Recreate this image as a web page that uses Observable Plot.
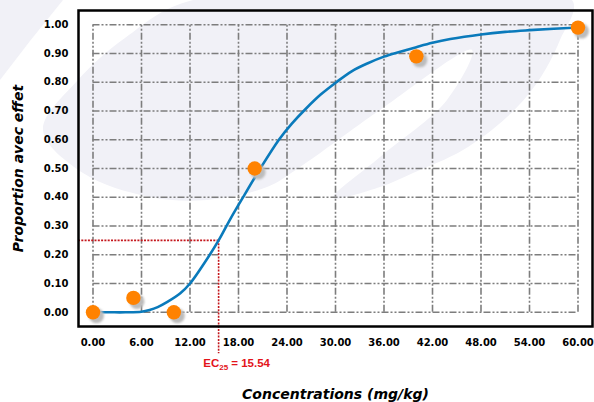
<!DOCTYPE html>
<html>
<head>
<meta charset="utf-8">
<script src="https://cdn.jsdelivr.net/npm/d3@7"></script>
<script src="https://cdn.jsdelivr.net/npm/@observablehq/plot@0.6"></script>
<style>
  body { margin: 0; background: #fff; }
  #chart svg { display: block; }
  #chart g[aria-label="x-axis label"] text,
  #chart g[aria-label="y-axis label"] text { font-family: "DejaVu Sans", sans-serif; font-size: 14px; font-style: italic; font-weight: bold; }
</style>
</head>
<body>
<div id="chart"></div>
<script>
// ---- data ----
const xTicks = [0, 6, 12, 18, 24, 30, 36, 42, 48, 54, 60];
const yTicks = [0, 0.1, 0.2, 0.3, 0.4, 0.5, 0.6, 0.7, 0.8, 0.9, 1.0];

const doseX = [0, 5, 10, 20, 40, 60];
const effectY = [0, 0.05, 0, 0.50, 0.89, 0.99];

const curveX = [0, 2, 4, 6, 7, 8, 9.2, 10.8, 12, 13.7, 15.54, 17, 18.5, 20.7, 23.0, 24.6, 26.3, 28.2, 30.1, 32, 34, 36, 38, 40, 42, 44.2, 48, 51, 54, 57, 60];
const curveY = [0, 0, 0, 0.002, 0.008, 0.018, 0.036, 0.066, 0.10, 0.168, 0.25, 0.325, 0.397, 0.50, 0.60, 0.656, 0.707, 0.758, 0.80, 0.838, 0.866, 0.889, 0.906, 0.922, 0.937, 0.95, 0.966, 0.975, 0.981, 0.986, 0.99];

const ec25 = 15.54;
const ecLevel = 0.25;
const ecName = "EC";
const ecSub = "25";
const ecValueText = " = 15.54";

const xLabel = "Concentrations (mg/kg)";
const yLabel = "Proportion avec effet";

// ---- tables built from the arrays ----
const points = doseX.map((x, i) => ({x, y: effectY[i]}));
const curve = curveX.map((x, i) => ({x, y: curveY[i]}));
const ecRows = [{x: ec25, y: ecLevel, label: ecName + ecSub + ecValueText}];

const gridStyle = {stroke: "#7d7d7d", strokeWidth: 1.6, strokeDasharray: "7,2,2,2,2,2"};
const redStyle = {stroke: "#c4161c", strokeWidth: 1.6, strokeDasharray: "2,1.3"};

const svg = Plot.plot({
  width: 594,
  height: 402,
  marginLeft: 78,
  marginRight: 2,
  marginTop: 10,
  marginBottom: 76,
  style: {fontFamily: "'DejaVu Sans', sans-serif", fontSize: "10px", fontWeight: "bold", color: "#000", background: "transparent"},
  x: {domain: [0, 60], inset: 14.5},
  y: {domain: [0, 1], inset: 14.2},
  marks: [
    Plot.ruleX(xTicks, {x: d => d, y1: () => yTicks[0], y2: () => yTicks[yTicks.length - 1], ...gridStyle}),
    Plot.ruleY(yTicks, {y: d => d, x1: () => xTicks[0], x2: () => xTicks[xTicks.length - 1], ...gridStyle}),
    Plot.ruleY(ecRows, {y: "y", x1: () => xTicks[0], x2: "x", insetLeft: -14.5, ...redStyle}),
    Plot.ruleX(ecRows, {x: "x", y1: "y", y2: () => yTicks[0], insetBottom: -41.5, ...redStyle}),
    Plot.line(curve, {x: "x", y: "y", stroke: "#0a7abb", strokeWidth: 2.6, curve: "catmull-rom"}),
    Plot.dot(points, {x: "x", y: "y", r: 7.5, fill: "#bcbcbc", dx: 3.5, dy: 3.5}),
    Plot.dot(points, {x: "x", y: "y", r: 7.2, fill: "#ff8200"}),
    Plot.text(ecRows, {x: "x", y: () => yTicks[0], text: "label", dx: 18, dy: 51, fill: "#e3141b", fontFamily: "'Liberation Sans', Arial, sans-serif", fontWeight: "bold", fontSize: 11.5, lineAnchor: "middle"}),
    Plot.frame({stroke: "#000", strokeWidth: 2.5}),
    Plot.axisX({ticks: xTicks, tickFormat: d3.format(".2f"), tickSize: 0, tickPadding: 12, label: xLabel, labelAnchor: "center", labelOffset: 72, labelArrow: "none"}),
    Plot.axisY({ticks: yTicks, tickFormat: d3.format(".2f"), tickSize: 0, tickPadding: 10, label: yLabel, labelAnchor: "center", labelOffset: 65, labelArrow: "none"})
  ]
});

// subscript for the EC25 label
const ecText = svg.querySelector('g[aria-label="text"] text');
if (ecText) {
  while (ecText.firstChild) ecText.removeChild(ecText.firstChild);
  const ns = "http://www.w3.org/2000/svg";
  const t1 = document.createElementNS(ns, "tspan"); t1.textContent = ecName;
  const t2 = document.createElementNS(ns, "tspan"); t2.textContent = ecSub;
  t2.setAttribute("font-size", "8"); t2.setAttribute("dy", "3");
  const t3 = document.createElementNS(ns, "tspan"); t3.textContent = ecValueText;
  t3.setAttribute("dy", "-3");
  ecText.append(t1, t2, t3);
}

// soft shadow under dots
const dotGroups = svg.querySelectorAll('g[aria-label="dot"]');
if (dotGroups.length) dotGroups[0].style.filter = "blur(1px)";

// faint decorative watermark behind the chart
const wm = d3.select(svg).insert("g", ":first-child").attr("aria-hidden", "true");
const blob = [[193,0],[572,0],[560,40],[537,83],[507,117],[463,150],[413,173],[380,187],[333,198],[380,157],[447,100],[472,50],[380,110],[300,167],[267,187],[207,200],[150,197],[83,173],[43,130],[78,80],[125,38]];
wm.append("path").attr("d", d3.line().curve(d3.curveCatmullRomClosed.alpha(0.5))(blob)).attr("fill", "#f1f1f7");
wm.append("path").attr("d", "M0,0 L63,0 Q30,40 0,80 Z").attr("fill", "#f1f1f7");

document.getElementById("chart").append(svg);
</script>
</body>
</html>
